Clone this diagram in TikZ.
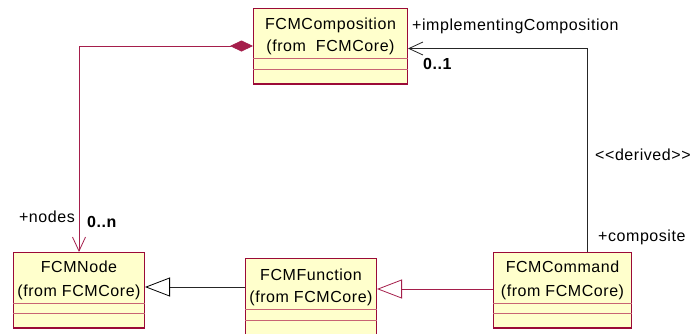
\documentclass[tikz,border=0pt]{standalone}
\usepackage{fontspec}
\setmainfont{Liberation Sans}
\usetikzlibrary{arrows.meta,calc}
\definecolor{umlborder}{RGB}{155,10,55}
\definecolor{umlsep}{RGB}{200,100,115}
\definecolor{umlfill}{RGB}{255,255,204}
\definecolor{umlline}{RGB}{165,30,75}
\tikzset{
  opentip/.tip={Straight Barb[length=14pt,width=13pt,line width=0.8pt]},
  gentipk/.tip={Triangle[open,length=25pt,width=19pt,fill=white,color=black]},
  gentipr/.tip={Triangle[open,length=25pt,width=19pt,fill=white,color=umlline]},
  diamtip/.tip={Diamond[length=23pt,width=11pt,fill=umlline]}
}
\begin{document}
\begin{tikzpicture}[x=1pt,y=1pt,
  cls/.style={draw=umlborder,fill=umlfill,line width=1pt,inner sep=0pt,anchor=north west},
  bot/.style={draw=umlborder,line width=1.8pt},
  sep/.style={draw=umlsep,line width=0.9pt},
  txt/.style={inner sep=0pt,font=\fontsize{16}{18}\selectfont\addfontfeature{LetterSpace=3.5}},
  btxt/.style={inner sep=0pt,font=\fontsize{16}{18}\selectfont\bfseries\addfontfeature{LetterSpace=3.5}},
  redline/.style={draw=umlline,line width=0.8pt},
  blackline/.style={draw=black!85,line width=0.8pt}
]
\useasboundingbox (0,0) rectangle (691,-333);
\clip (0,0) rectangle (691,-333);
\fill[white] (0,0) rectangle (691,-333);

% FCMComposition
\node[cls,minimum width=154pt,minimum height=75pt] (comp) at (253,-8) {};
\node[txt] at ([yshift=-17]comp.north) {FCMComposition};
\node[txt] at ([yshift=-39]comp.north) {(from\ \ FCMCore)};
\draw[sep] ([yshift=-50]comp.north west) -- ([yshift=-50]comp.north east);
\draw[sep] ([yshift=-61]comp.north west) -- ([yshift=-61]comp.north east);
\draw[bot] (comp.south west) -- (comp.south east);

% FCMNode
\node[cls,minimum width=131pt,minimum height=75pt] (fnode) at (13,-252) {};
\node[txt] at ([yshift=-15]fnode.north) {FCMNode};
\node[txt] at ([yshift=-40]fnode.north) {(from FCMCore)};
\draw[sep] ([yshift=-51]fnode.north west) -- ([yshift=-51]fnode.north east);
\draw[sep] ([yshift=-61]fnode.north west) -- ([yshift=-61]fnode.north east);
\draw[bot] (fnode.south west) -- (fnode.south east);

% FCMFunction
\node[cls,minimum width=131pt,minimum height=82pt] (func) at (245,-258) {};
\node[txt] at ([yshift=-17]func.north) {FCMFunction};
\node[txt] at ([yshift=-40]func.north) {(from FCMCore)};
\draw[sep] ([yshift=-51]func.north west) -- ([yshift=-51]func.north east);
\draw[sep] ([yshift=-62]func.north west) -- ([yshift=-62]func.north east);

% FCMCommand
\node[cls,minimum width=138pt,minimum height=75pt] (cmd) at (493,-252) {};
\node[txt] at ([yshift=-15]cmd.north) {FCMCommand};
\node[txt] at ([yshift=-40]cmd.north) {(from FCMCore)};
\draw[sep] ([yshift=-51]cmd.north west) -- ([yshift=-51]cmd.north east);
\draw[sep] ([yshift=-61]cmd.north west) -- ([yshift=-61]cmd.north east);
\draw[bot] (cmd.south west) -- (cmd.south east);

% composition FCMComposition <>-> FCMNode
\draw[redline,diamtip-opentip] (comp.west) -| (fnode.north);
\node[txt,anchor=east] at (75,-217) {+nodes};
\node[btxt,anchor=west] at (87,-222) {0..n};

% derived association FCMCommand -> FCMComposition
\coordinate (cmdtop) at ([xshift=25]cmd.north);
\coordinate (compr) at ([yshift=-2.5]comp.east);
\draw[blackline,-opentip] (cmdtop) |- (compr);
\node[txt,anchor=west] at (412,-26) {+implementingComposition};
\node[btxt,anchor=west] at (423,-64) {0..1};
\node[txt,anchor=west] at (595,-155) {<{}<derived>{}>};
\node[txt,anchor=west] at (598,-237) {+composite};

% generalizations
\coordinate (g1) at (0,-287);
\coordinate (g2) at (0,-289);
\draw[blackline,-gentipk] (func.west |- g1) -- (fnode.east |- g1);
\draw[redline,-gentipr] (cmd.west |- g2) -- (func.east |- g2);
\end{tikzpicture}
\end{document}
